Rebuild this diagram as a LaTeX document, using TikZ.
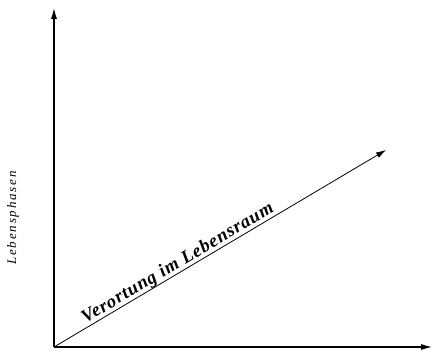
\documentclass[tikz,border=0pt]{standalone}
\usepackage{fontspec}
\setmainfont{Liberation Serif}
\usetikzlibrary{arrows.meta}
\begin{document}
\begin{tikzpicture}[x=1pt,y=1pt,
  axis/.style={line width=1.1pt,-{Latex[length=11pt,width=6pt]}},
  diag/.style={line width=0.8pt,-{Latex[length=10pt,width=6pt]}},
  lab/.style={font=\fontsize{13}{15}\selectfont\itshape\addfontfeature{LetterSpace=14}},
  dlab/.style={font=\fontsize{18.5}{20}\selectfont\bfseries\itshape\addfontfeature{LetterSpace=5}}]
\useasboundingbox (0,0) rectangle (433,351);
\coordinate (O) at (54,4);
\coordinate (Y) at (54,343);
\coordinate (X) at (432,4);
\coordinate (D) at (386,201);
\draw[axis] (O) -- (Y);
\draw[axis] (O) -- (X);
\draw[diag] (O) -- (D) node[pos=0.1, sloped, anchor=base west, inner sep=0, dlab] (dl) {\raisebox{4pt}{Verortung im Lebensraum}};
\node[rotate=90, lab, inner sep=0] (yl) at (13,133) {Lebensphasen};
\end{tikzpicture}
\end{document}
